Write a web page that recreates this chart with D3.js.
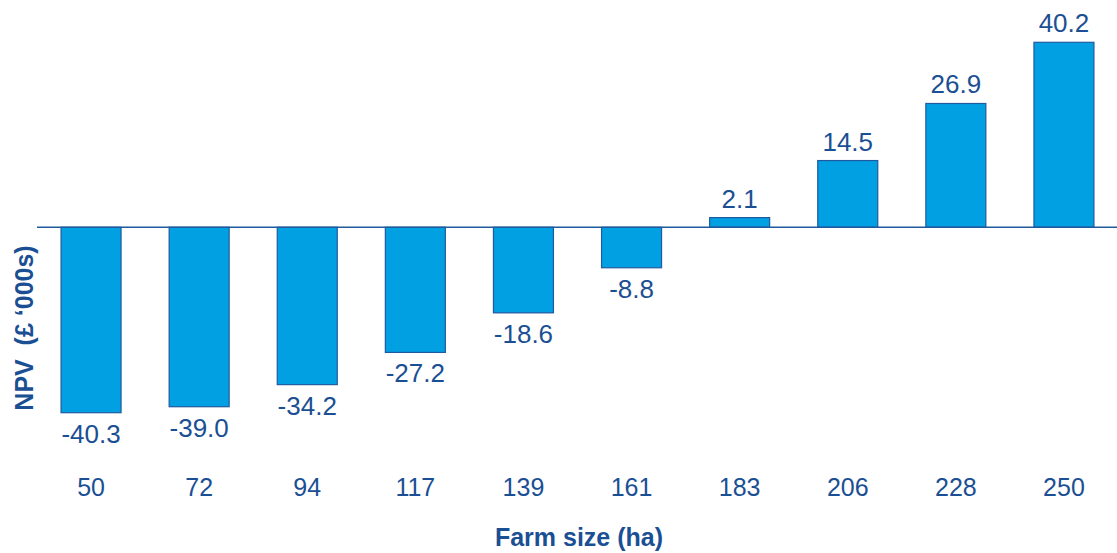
<!DOCTYPE html>
<html>
<head>
<meta charset="utf-8">
<script src="https://cdn.jsdelivr.net/npm/d3@7"></script>
<style>
  body { margin: 0; background: #fff; }
  text { font-family: "Liberation Sans", Arial, sans-serif; fill: #1B4F93; }
</style>
</head>
<body>
<div id="chart"></div>
<script>
var farmSizes = ["50", "72", "94", "117", "139", "161", "183", "206", "228", "250"];
var npvValues = [-40.3, -39.0, -34.2, -27.2, -18.6, -8.8, 2.1, 14.5, 26.9, 40.2];

var W = 1117, H = 553;

var svg = d3.select("#chart").append("svg")
    .attr("width", W)
    .attr("height", H);

var x = d3.scaleBand()
    .domain(farmSizes)
    .range([37, 1118])
    .paddingInner(0.445)
    .paddingOuter(0.2225);

var y = d3.scaleLinear()
    .domain([-40.3, 40.2])
    .range([412.7, 42.3]);

// bars
svg.selectAll("rect.bar")
    .data(npvValues)
    .enter().append("rect")
    .attr("class", "bar")
    .attr("x", function (d, i) { return x(farmSizes[i]); })
    .attr("width", x.bandwidth())
    .attr("y", function (d) { return y(Math.max(0, d)); })
    .attr("height", function (d) { return Math.abs(y(d) - y(0)); })
    .attr("fill", "#00A0E3")
    .attr("stroke", "#1F5A9E")
    .attr("stroke-width", 1.2);

// zero line
svg.append("line")
    .attr("x1", 37).attr("x2", W)
    .attr("y1", y(0)).attr("y2", y(0))
    .attr("stroke", "#1F5A9E")
    .attr("stroke-width", 1.3);

// value labels
svg.selectAll("text.val")
    .data(npvValues)
    .enter().append("text")
    .attr("class", "val")
    .attr("x", function (d, i) { return x(farmSizes[i]) + x.bandwidth() / 2; })
    .attr("y", function (d) { return d >= 0 ? y(d) - 10 : y(d) + 30; })
    .attr("text-anchor", "middle")
    .attr("font-size", "26px")
    .text(function (d) { return d.toFixed(1); });

// category labels
svg.selectAll("text.cat")
    .data(farmSizes)
    .enter().append("text")
    .attr("class", "cat")
    .attr("x", function (d) { return x(d) + x.bandwidth() / 2; })
    .attr("y", 496)
    .attr("text-anchor", "middle")
    .attr("font-size", "25px")
    .text(function (d) { return d; });

// axis titles
svg.append("text")
    .attr("x", 579)
    .attr("y", 546)
    .attr("text-anchor", "middle")
    .attr("font-size", "25px")
    .attr("font-weight", "bold")
    .text("Farm size (ha)");

svg.append("text")
    .attr("transform", "translate(33,328) rotate(-90)")
    .attr("text-anchor", "middle")
    .attr("font-size", "25px")
    .attr("font-weight", "bold")
    .style("white-space", "pre")
    .text("NPV  (£ ‘000s)");
</script>
</body>
</html>
